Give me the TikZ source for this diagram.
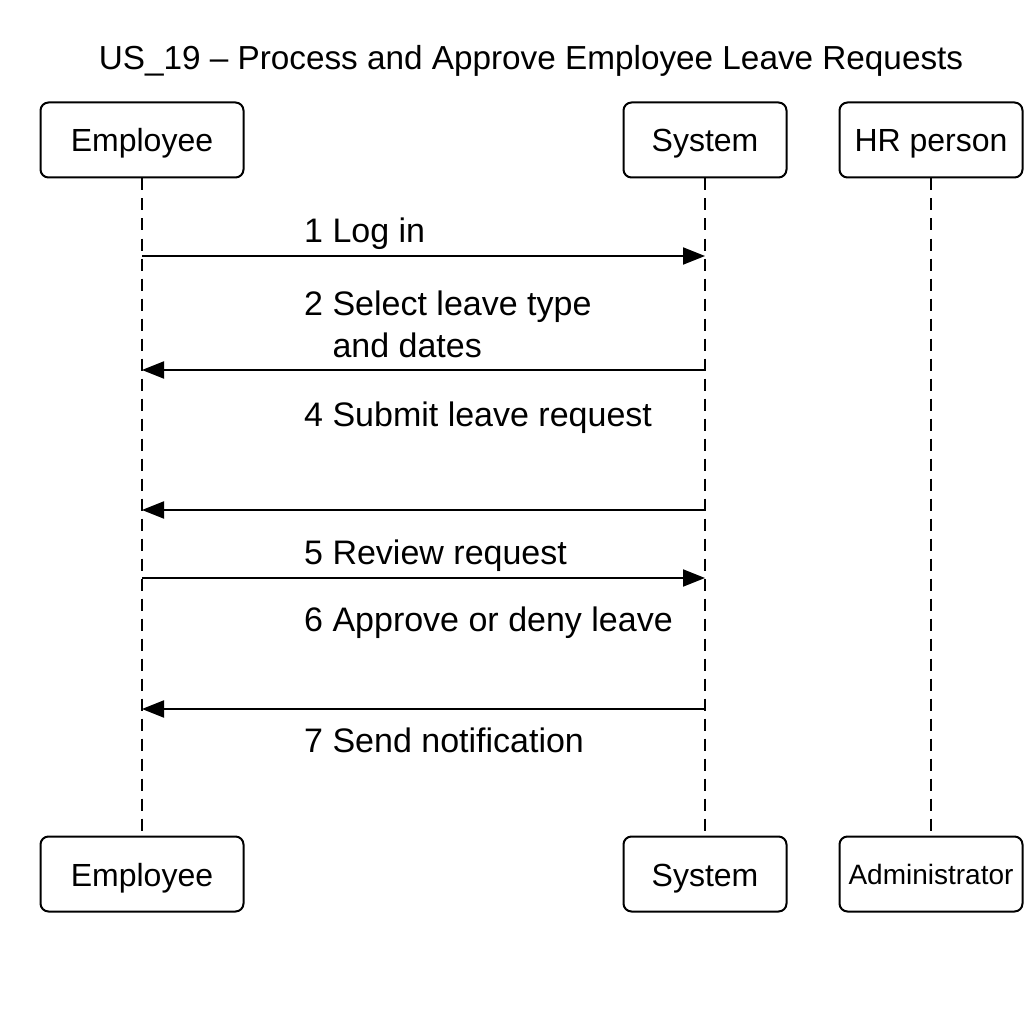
\documentclass[tikz,border=0pt]{standalone}
\usepackage{fontspec}
\setmainfont{Liberation Sans}
\usetikzlibrary{arrows.meta}

\begin{document}
\begin{tikzpicture}[x=1pt,y=-1pt,
        actor/.style={draw=black,line width=2pt,rounded corners=8pt,minimum height=75pt,inner sep=0pt,text height=24pt,text depth=0pt,font=\fontsize{32}{38}\selectfont},
        lifeline/.style={line width=2pt,dash pattern=on 12pt off 8pt},
        msg/.style={line width=2pt,-{Triangle[length=22pt,width=17pt]}},
        lbl/.style={anchor=base west,align=left,inner sep=0pt,font=\fontsize{34}{42}\selectfont}]
    \useasboundingbox (0,0) rectangle (1024,1024);
    \node[anchor=base,font=\fontsize{33.3}{40}\selectfont] (title) at (531,70) {US\_19 – Process and Approve Employee Leave Requests};
    % participants
    \node[actor,minimum width=203pt] (empTop) at (142,140) {Employee};
    \node[actor,minimum width=163pt] (sysTop) at (705,140) {System};
    \node[actor,minimum width=183pt] (hrTop) at (931,140) {HR person};
    \node[actor,minimum width=203pt] (empBot) at (142,874) {Employee};
    \node[actor,minimum width=163pt] (sysBot) at (705,874) {System};
    \node[actor,minimum width=183pt,font=\fontsize{28}{32}\selectfont,text height=21pt] (adminBot) at (931,874) {Administrator};
    \draw[lifeline] (empTop) -- (empBot);
    \draw[lifeline] (sysTop) -- (sysBot);
    \draw[lifeline] (hrTop) -- (adminBot);
    % messages
    \foreach \n/\y in {1/256,2/370,3/510,4/578,5/709}{
        \coordinate (e\n) at (empTop |- 0,\y);
        \coordinate (s\n) at (sysTop |- 0,\y);
    }
    \draw[msg] (e1) -- (s1);
    \draw[msg] (s2) -- (e2);
    \draw[msg] (s3) -- (e3);
    \draw[msg] (e4) -- (s4);
    \draw[msg] (s5) -- (e5);
    \node[lbl] (login) at (304,243) {1 Log in};
    \node[lbl] (select) at (304,357) {2 Select leave type\\\phantom{2 }and dates};
    \node[lbl] (submit) at (304,426) {4 Submit leave request};
    \node[lbl] (review) at (304,564) {5 Review request};
    \node[lbl] (approve) at (304,631) {6 Approve or deny leave};
    \node[lbl] (notify) at (304,752) {7 Send notification};
\end{tikzpicture}
\end{document}
